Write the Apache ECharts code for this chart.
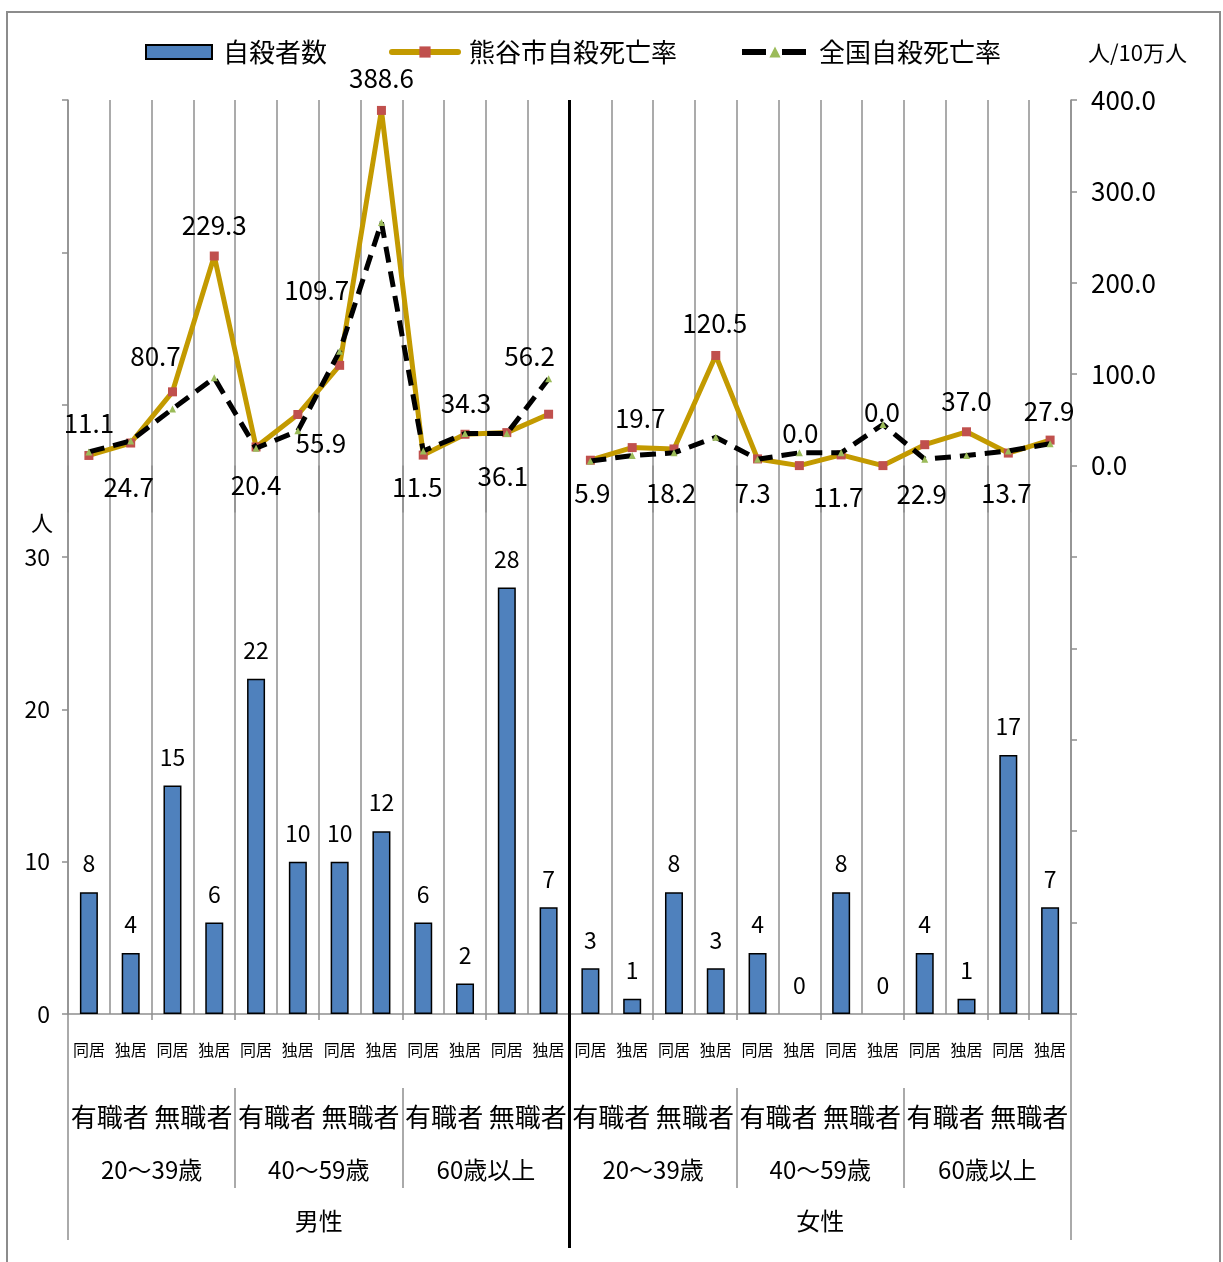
<!DOCTYPE html>
<html>
<head>
<meta charset="utf-8">
<title>自殺者数と自殺死亡率</title>
<script src="https://cdn.jsdelivr.net/npm/echarts@6/dist/echarts.min.js"></script>
<style>
  html, body { margin: 0; padding: 0; background: #ffffff; }
  #chart { width: 1223px; height: 1262px; }
</style>
</head>
<body>
<div id="chart"></div>
<script>
// ---- data ----
const livingTypes = [
  '同居', '独居', '同居', '独居', '同居', '独居', '同居', '独居', '同居', '独居', '同居', '独居',
  '同居', '独居', '同居', '独居', '同居', '独居', '同居', '独居', '同居', '独居', '同居', '独居'
];
const jobGroups = ['有職者', '無職者', '有職者', '無職者', '有職者', '無職者',
                   '有職者', '無職者', '有職者', '無職者', '有職者', '無職者'];
const ageGroups = ['20～39歳', '40～59歳', '60歳以上', '20～39歳', '40～59歳', '60歳以上'];
const sexGroups = ['男性', '女性'];

// 自殺者数 (人)
const suicideCounts = [8, 4, 15, 6, 22, 10, 10, 12, 6, 2, 28, 7,
                       3, 1, 8, 3, 4, 0, 8, 0, 4, 1, 17, 7];

// 熊谷市自殺死亡率 (人/10万人)
const cityRateMale = [11.1, 24.7, 80.7, 229.3, 20.4, 55.9, 109.7, 388.6, 11.5, 34.3, 36.1, 56.2];
const cityRateFemale = [5.9, 19.7, 18.2, 120.5, 7.3, 0.0, 11.7, 0.0, 22.9, 37.0, 13.7, 27.9];

// 全国自殺死亡率 (人/10万人)
const nationalRateMale = [15, 27, 62, 96, 19, 38, 125, 266, 16, 35, 35, 95];
const nationalRateFemale = [5, 11, 14, 31, 7, 14, 14, 45, 7, 11, 16, 24];

// labelled ticks on the left (人) and right (人/10万人) axes
const countTicks = [0, 10, 20, 30];
const rateTicks = [0, 100, 200, 300, 400];

// ---- label placement for the city rate values (dx, dy from the point) ----
const cityLabelOffsets = [
  [0, -32], [-2, 44], [-17, -36], [0, -31], [0, 38], [23, 29],
  [-23, -75], [0, -32], [-6, 32], [1, -31], [-4, 44], [-19, -58],
  [2, 33], [8, -29], [-3, 44], [-1, -32], [-5, 34], [1, -32],
  [-3, 42], [-1, -53], [-3, 49], [0, -31], [-2, 40], [-1, -29]
];

const FONT = '"Noto Sans CJK JP", "Noto Sans", sans-serif';
const GRID_GRAY = '#8f8f8f';
const GOLD = '#C39A00';
const half = livingTypes.length / 2;

function padSeries(values, firstHalf) {
  const blanks = new Array(half).fill(null);
  return firstHalf ? values.concat(blanks) : blanks.concat(values);
}

function cityItems(values, firstHalf) {
  return padSeries(values, firstHalf).map(function (v, i) {
    if (v === null) return null;
    return { value: v, label: { offset: cityLabelOffsets[i] } };
  });
}

// zero-height bars get no outline so they leave no stray line on the axis
const barItems = suicideCounts.map(function (v) {
  return v === 0 ? { value: v, itemStyle: { borderWidth: 0 } } : v;
});

const chart = echarts.init(document.getElementById('chart'), null, { renderer: 'canvas' });

const cityLine = {
  type: 'line',
  name: '熊谷市自殺死亡率',
  xAxisIndex: 0,
  yAxisIndex: 1,
  symbol: 'rect',
  symbolSize: 9,
  z: 3,
  lineStyle: { color: GOLD, width: 5 },
  itemStyle: { color: '#C0504D' },
  label: {
    show: true,
    position: 'inside',
    color: '#000',
    fontSize: 26,
    fontFamily: FONT,
    formatter: function (p) { return Number(p.value).toFixed(1); }
  }
};

const nationalLine = {
  type: 'line',
  name: '全国自殺死亡率',
  xAxisIndex: 0,
  yAxisIndex: 1,
  symbol: 'triangle',
  symbolSize: 7,
  z: 4,
  lineStyle: { color: '#000000', width: 5, type: [16, 9] },
  itemStyle: { color: '#9BBB59' }
};

const option = {
  animation: false,
  backgroundColor: '#ffffff',
  textStyle: { fontFamily: FONT, color: '#000' },
  legend: {
    left: 140,
    top: 34,
    itemWidth: 66,
    itemHeight: 14,
    itemGap: 62,
    textStyle: { fontSize: 26, color: '#000', fontFamily: FONT, padding: [0, 0, 0, 6] },
    data: [
      { name: '自殺者数', icon: 'rect' },
      { name: '熊谷市自殺死亡率', lineStyle: { width: 6, cap: 'round' }, textStyle: { width: 208 } },
      { name: '全国自殺死亡率', lineStyle: { width: 6, type: [24, 16] } }
    ]
  },
  grid: { left: 68, right: 152, top: 100, bottom: 248, containLabel: false },
  xAxis: [
    {
      type: 'category',
      position: 'bottom',
      data: livingTypes,
      boundaryGap: true,
      axisLine: { show: true, lineStyle: { color: GRID_GRAY, width: 1.5 } },
      axisTick: { show: true, interval: 1, length: 6, lineStyle: { color: GRID_GRAY, width: 1.5 } },
      axisLabel: { interval: 0, margin: 28, fontSize: 16, color: '#000' },
      splitLine: { show: true, interval: 0, lineStyle: { color: GRID_GRAY, width: 1.5 } }
    },
    {
      type: 'category',
      position: 'bottom',
      offset: 74,
      data: jobGroups,
      axisLine: { show: false },
      axisTick: { show: true, interval: 0, length: 47, lineStyle: { color: GRID_GRAY, width: 1.5 } },
      axisLabel: { interval: 0, margin: 16, fontSize: 26, color: '#000' },
      splitLine: { show: false }
    },
    {
      type: 'category',
      position: 'bottom',
      offset: 74,
      data: ageGroups,
      axisLine: { show: false },
      axisTick: { show: true, interval: 0, length: 100, lineStyle: { color: GRID_GRAY, width: 1.5 } },
      axisLabel: { interval: 0, margin: 70, fontSize: 24, color: '#000' },
      splitLine: { show: false }
    },
    {
      type: 'category',
      position: 'bottom',
      offset: 0,
      data: sexGroups,
      axisLine: { show: false },
      axisTick: { show: true, interval: 0, length: 226, lineStyle: { color: GRID_GRAY, width: 1.5 } },
      axisLabel: { interval: 0, margin: 195, fontSize: 24, color: '#000' },
      splitLine: { show: false }
    }
  ],
  yAxis: [
    {
      type: 'value',
      position: 'left',
      min: 0,
      max: 60,
      interval: 10,
      axisLine: { show: true, lineStyle: { color: GRID_GRAY, width: 1.5 } },
      axisTick: { show: true, length: 6, lineStyle: { color: GRID_GRAY, width: 1.5 } },
      axisLabel: {
        margin: 18,
        fontSize: 23,
        color: '#000',
        formatter: function (v) { return countTicks.indexOf(v) >= 0 ? String(v) : ''; }
      },
      splitLine: { show: false }
    },
    {
      type: 'value',
      position: 'right',
      min: -600,
      max: 400,
      interval: 100,
      axisLine: { show: true, lineStyle: { color: GRID_GRAY, width: 1.5 } },
      axisTick: { show: true, length: 6, lineStyle: { color: GRID_GRAY, width: 1.5 } },
      axisLabel: {
        margin: 20,
        fontSize: 26,
        color: '#000',
        formatter: function (v) { return rateTicks.indexOf(v) >= 0 ? v.toFixed(1) : ''; }
      },
      splitLine: { show: false }
    }
  ],
  series: [
    {
      type: 'bar',
      name: '自殺者数',
      xAxisIndex: 0,
      yAxisIndex: 0,
      barWidth: 18,
      z: 2,
      data: barItems,
      itemStyle: { color: '#4F81BD', borderColor: '#000000', borderWidth: 1.5 },
      label: { show: true, position: 'top', distance: 17, fontSize: 23, color: '#000', fontFamily: FONT }
    },
    Object.assign({}, cityLine, { data: cityItems(cityRateMale, true) }),
    Object.assign({}, cityLine, { data: cityItems(cityRateFemale, false) }),
    Object.assign({}, nationalLine, { data: padSeries(nationalRateMale, true) }),
    Object.assign({}, nationalLine, { data: padSeries(nationalRateFemale, false) })
  ]
};

chart.setOption(option);

// Frame, male/female divider and axis unit captions, placed from the axes' own scales
const xMale = chart.convertToPixel({ xAxisIndex: 0 }, half - 1);
const xFemale = chart.convertToPixel({ xAxisIndex: 0 }, half);
const xDivider = (xMale + xFemale) / 2;
const yTop = chart.convertToPixel({ yAxisIndex: 0 }, 60);
const y30 = chart.convertToPixel({ yAxisIndex: 0 }, 30);
const xLeftAxis = chart.convertToPixel({ xAxisIndex: 0 }, 0) - (xFemale - xMale) / 2;
const xRightAxis = chart.convertToPixel({ xAxisIndex: 0 }, livingTypes.length - 1) + (xFemale - xMale) / 2;

chart.setOption({
  graphic: [
    {
      type: 'rect',
      silent: true,
      shape: { x: 7, y: 12, width: 1213, height: 1262 },
      style: { fill: 'none', stroke: '#8c8c8c', lineWidth: 2 },
      z: 0
    },
    {
      type: 'line',
      silent: true,
      shape: { x1: xDivider, y1: yTop, x2: xDivider, y2: 1248 },
      style: { stroke: '#000000', lineWidth: 3 },
      z: 50
    },
    {
      type: 'text',
      silent: true,
      x: xLeftAxis - 26,
      y: y30 - 34,
      style: { text: '人', fontSize: 22, fontFamily: FONT, fill: '#000', align: 'center', verticalAlign: 'middle' },
      z: 50
    },
    {
      type: 'text',
      silent: true,
      x: xRightAxis + 17,
      y: yTop - 47,
      style: { text: '人/10万人', fontSize: 22, fontFamily: FONT, fill: '#000', align: 'left', verticalAlign: 'middle' },
      z: 50
    }
  ]
});
</script>
</body>
</html>
